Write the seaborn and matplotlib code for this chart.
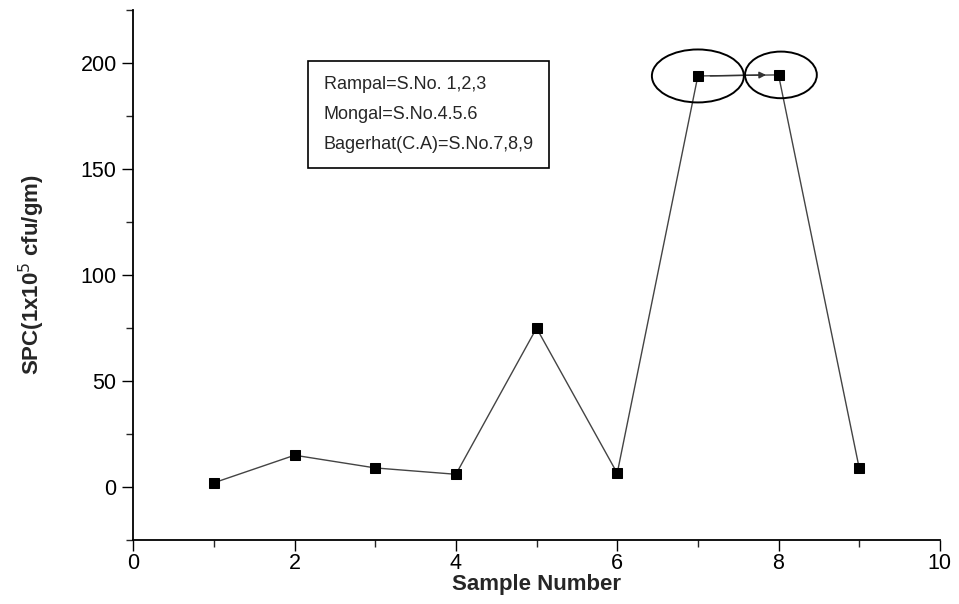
import matplotlib
matplotlib.use("Agg")
import matplotlib.pyplot as plt
from matplotlib.patches import Ellipse
import seaborn as sns
import pandas as pd

# Standard plate count per sample
sample_number = [1, 2, 3, 4, 5, 6, 7, 8, 9]
spc_values = [2, 15, 9, 6, 75, 6.5, 194, 194.5, 9]

legend_lines = [
    "Rampal=S.No. 1,2,3",
    "Mongal=S.No.4.5.6",
    "Bagerhat(C.A)=S.No.7,8,9",
]

sns.set_theme(style="ticks")
plt.rcParams["font.family"] = ["Liberation Sans", "DejaVu Sans"]

df = pd.DataFrame({"Sample": sample_number, "SPC": spc_values})

fig = plt.figure(figsize=(9.59, 6.04), dpi=100)
ax = fig.add_axes([0.139, 0.106, 0.841, 0.877])

sns.lineplot(data=df, x="Sample", y="SPC", ax=ax, color="#444444",
             linewidth=1.0, marker="s", markersize=7,
             markerfacecolor="black", markeredgecolor="black")

# Arrow between the two highlighted samples
ax.annotate("", xy=(sample_number[7] - 0.12, spc_values[7]),
            xytext=(sample_number[6] + 0.12, spc_values[6]),
            arrowprops=dict(arrowstyle="-|>", color="#333333", lw=1.0,
                            mutation_scale=10))

# Circle the two high counts
ax.add_patch(Ellipse((sample_number[6], spc_values[6]), 1.14, 25,
                     fill=False, edgecolor="black", linewidth=1.4, zorder=5))
ax.add_patch(Ellipse((sample_number[7] + 0.03, spc_values[7]), 0.89, 22,
                     fill=False, edgecolor="black", linewidth=1.4, zorder=5))

ax.set_xlim(0, 10)
ax.set_ylim(-25, 225)
ax.set_xticks([0, 2, 4, 6, 8, 10])
ax.set_xticks([1, 3, 5, 7, 9], minor=True)
ax.set_yticks([0, 50, 100, 150, 200])
ax.set_yticks([-25, 25, 75, 125, 175, 225], minor=True)
ax.tick_params(axis="both", which="major", direction="out", length=8,
               width=1.0, labelsize=15.5, colors="black")
ax.tick_params(axis="y", which="major", pad=4)
ax.tick_params(axis="x", which="major", pad=1.5)
ax.tick_params(axis="both", which="minor", direction="out", length=5,
               width=1.0)
for side in ("top", "right"):
    ax.spines[side].set_visible(False)
for side in ("left", "bottom"):
    ax.spines[side].set_linewidth(1.3)
    ax.spines[side].set_color("black")

ax.set_xlabel("Sample Number", fontsize=16, fontweight="bold", labelpad=0)
ax.set_ylabel(r"SPC(1x10$^{5}$ cfu/gm)", fontsize=16, fontweight="bold",
              labelpad=24)

ax.text(2.36, 194, "\n".join(legend_lines), fontsize=13,
        va="top", ha="left", linespacing=2.0,
        bbox=dict(boxstyle="square,pad=0.85", facecolor="white",
                  edgecolor="black", linewidth=1.2))

fig.savefig("out.png", dpi=100)
